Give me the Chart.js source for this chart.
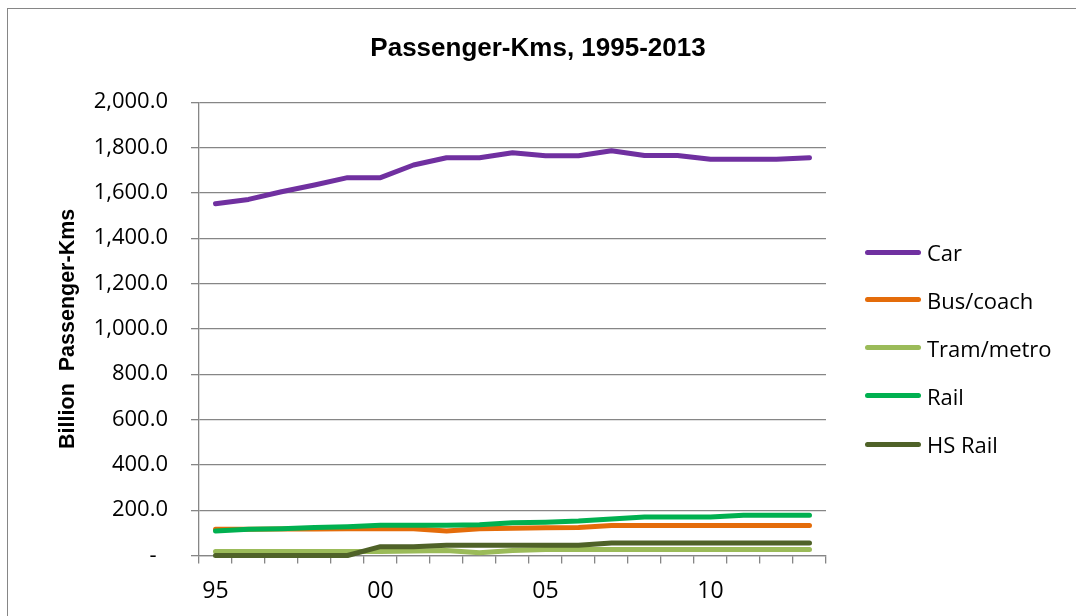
<!DOCTYPE html>
<html>
<head>
<meta charset="utf-8">
<script src="https://cdn.jsdelivr.net/npm/chart.js@4"></script>
<style>
  body { margin: 0; background: #fff; }
  #wrap { position: relative; width: 1076px; height: 616px; overflow: hidden; }
  #frame { position: absolute; left: 7px; top: 8px; width: 1200px; height: 700px;
           border-left: 1.5px solid #868686; border-top: 1.5px solid #868686; }
  #legend { position: absolute; left: 0; top: 0; }
  .item { position: absolute; left: 865px; height: 30px; display: flex; align-items: center;
          font-family: 'Open Sans'; font-size: 22px; color: #000; white-space: nowrap; }
  .swatch { width: 56px; height: 5px; border-radius: 3px; margin-right: 6px; }
</style>
</head>
<body>
<div id="wrap">
  <div id="frame"></div>
  <canvas id="chart"></canvas>
  <div id="legend"></div>
</div>
<script>
// years 1995-2013, billion passenger-kms
const years = [1995, 1996, 1997, 1998, 1999, 2000, 2001, 2002, 2003, 2004,
               2005, 2006, 2007, 2008, 2009, 2010, 2011, 2012, 2013];
const car   = [1552, 1571, 1605, 1635, 1667, 1667, 1723, 1755, 1755, 1777,
               1764, 1764, 1786, 1765, 1765, 1748, 1748, 1748, 1755];
const bus   = [116, 116, 117, 117, 118, 118, 118, 108, 118, 120,
               122, 124, 132, 132, 132, 132, 132, 132, 132];
const tram  = [18, 18, 18, 18, 18, 18, 20, 22, 12, 22,
               26, 26, 26, 26, 26, 26, 26, 26, 26];
const rail  = [108, 116, 118, 123, 127, 133, 133, 133, 136, 144,
               147, 152, 161, 170, 170, 170, 178, 178, 178];
const hsRail = [0, 0, 0, 0, 0, 39, 39, 45, 45, 45,
                45, 45, 55, 55, 55, 55, 55, 55, 55];
const seriesNames = ['Car', 'Bus/coach', 'Tram/metro', 'Rail', 'HS Rail'];
const seriesColors = ['#7030A0', '#E46C0A', '#9BBB59', '#00B050', '#4F6228'];
const yTicks = [0, 200, 400, 600, 800, 1000, 1200, 1400, 1600, 1800, 2000];

const gridColor = '#868686';
const allSeries = [car, bus, tram, rail, hsRail];

const datasets = allSeries.map((d, i) => ({
  label: seriesNames[i],
  data: d,
  borderColor: seriesColors[i],
  backgroundColor: seriesColors[i],
  borderWidth: 5,
  pointRadius: 0,
  tension: 0,
  borderCapStyle: 'round',
  borderJoinStyle: 'round',
  clip: false,
  order: allSeries.length - i   // later series drawn on top, like Excel
}));

Chart.defaults.font.family = 'Open Sans';
Chart.defaults.color = '#000';

new Chart(document.getElementById('chart'), {
  type: 'line',
  data: { labels: years, datasets: datasets },
  options: {
    responsive: true,
    maintainAspectRatio: false,
    animation: false,
    layout: { padding: 0 },
    plugins: {
      legend: { display: false },
      tooltip: { enabled: false },
      title: {
        display: true,
        text: 'Passenger-Kms, 1995-2013',
        font: { family: 'Liberation Sans', size: 26, weight: 'bold' },
        color: '#000',
        padding: { top: 33, bottom: 38 }
      }
    },
    scales: {
      x: {
        offset: true,
        grid: { offset: true, drawOnChartArea: false, drawTicks: true, tickLength: 8,
                color: gridColor, lineWidth: 1.3 },
        border: { display: true, color: gridColor, width: 1.3 },
        ticks: {
          autoSkip: false, maxRotation: 0, padding: 14,
          font: { size: 23 },
          callback: (v, i) => i % 5 === 0 ? String(years[i]).slice(2) : ''
        },
        afterFit: s => { s.height = 60.5; }
      },
      y: {
        min: 0, max: 2000,
        afterBuildTicks: s => { s.ticks = yTicks.map(v => ({ value: v })); },
        grid: { color: gridColor, lineWidth: 1.3, tickLength: 8 },
        border: { display: true, color: gridColor, width: 1.3 },
        ticks: {
          padding: 23,
          font: { size: 22 },
          callback: v => v === 0 ? '-  ' :
            v.toLocaleString('en-US', { minimumFractionDigits: 1, maximumFractionDigits: 1 })
        },
        title: {
          display: true,
          text: 'Billion  Passenger-Kms',
          font: { family: 'Liberation Sans', size: 21.5, weight: 'bold' },
          padding: { top: 55, bottom: 0 }
        },
        afterFit: s => { s.width = 199; }
      },
      // empty right axis that only reserves room for the legend
      yRight: {
        position: 'right',
        grid: { display: false },
        border: { display: false },
        ticks: { display: false },
        afterFit: s => { s.width = 250; }
      }
    }
  }
});

// legend, same layout as the Excel one
const legendTops = [252, 299.5, 347.5, 395.5, 444];
const legend = document.getElementById('legend');
seriesNames.forEach((name, i) => {
  const item = document.createElement('div');
  item.className = 'item';
  item.style.top = (legendTops[i] - 15) + 'px';
  item.innerHTML = '<div class="swatch" style="background:' + seriesColors[i] + '"></div>' + name;
  legend.appendChild(item);
});
</script>
</body>
</html>
